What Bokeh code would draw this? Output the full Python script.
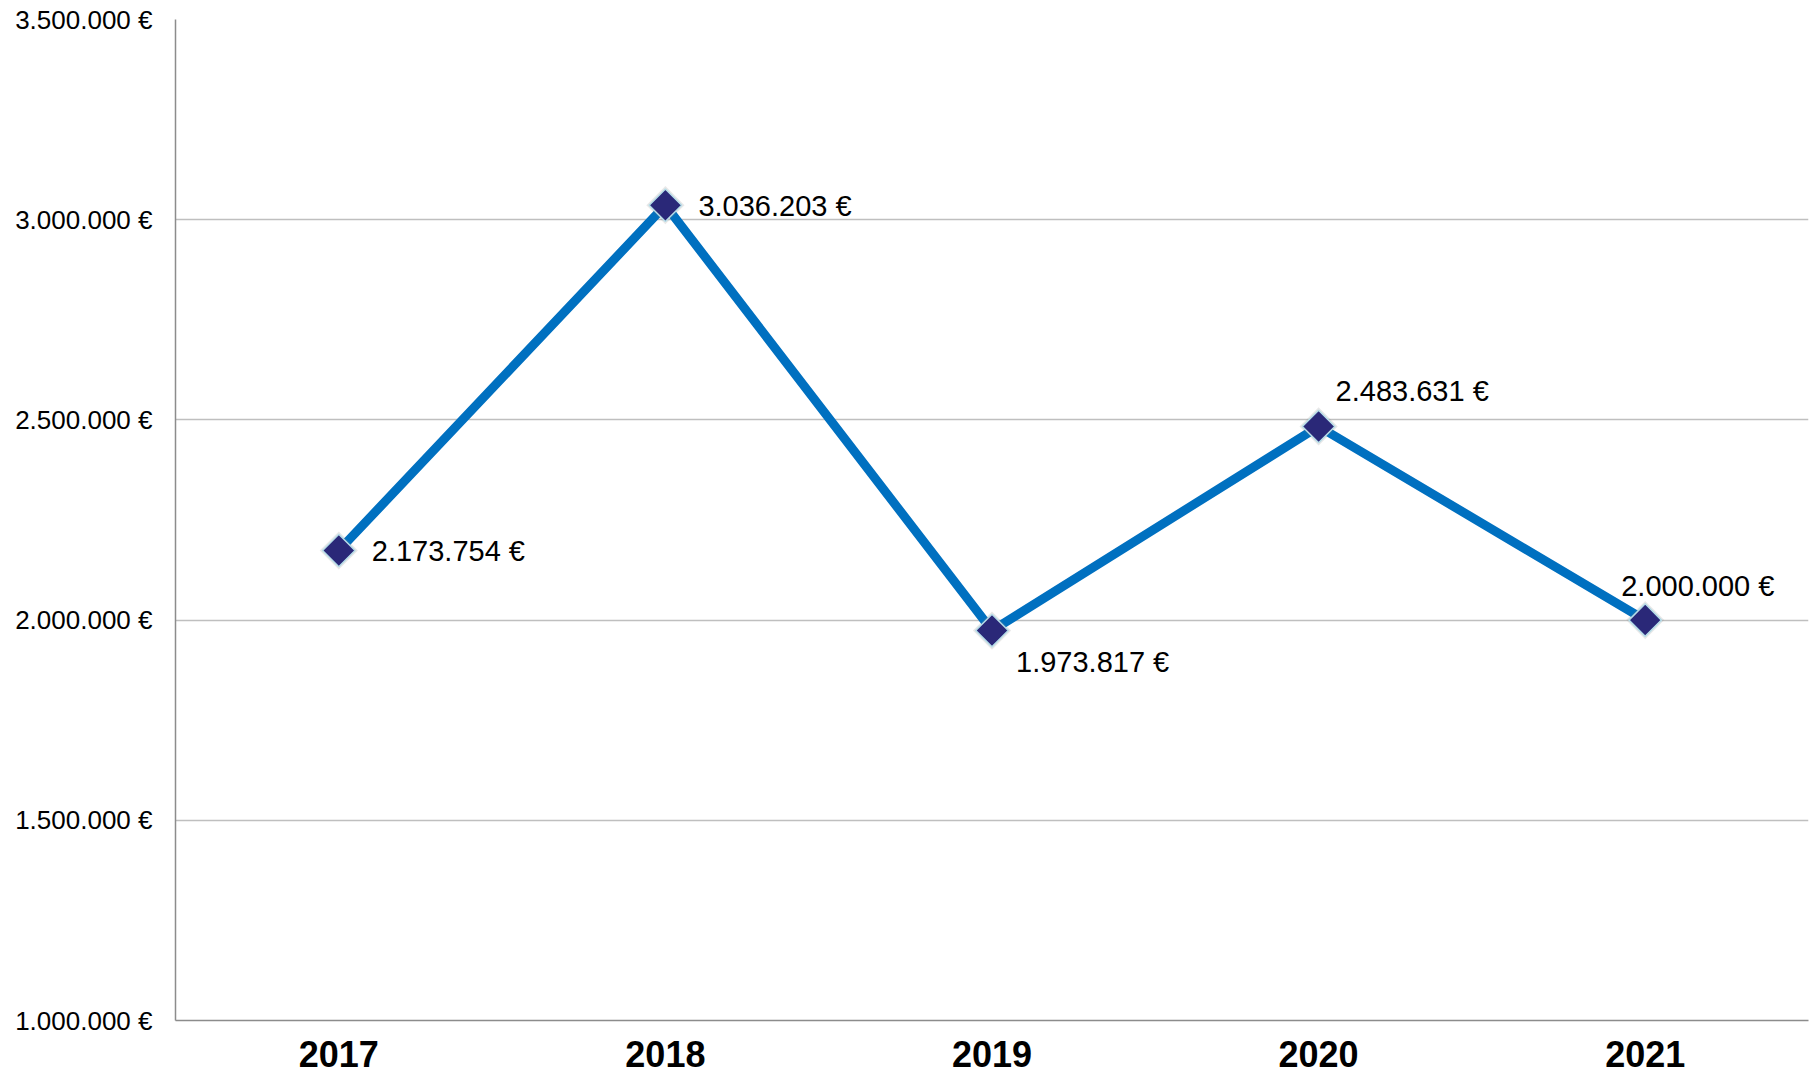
import math
from bokeh.plotting import figure
from bokeh.models import ColumnDataSource, Range1d, FixedTicker, CustomJSTickFormatter
from bokeh.core.properties import value
from bokeh.embed import file_html
from bokeh.resources import INLINE

years = ["2017", "2018", "2019", "2020", "2021"]
amounts = [2173754, 3036203, 1973817, 2483631, 2000000]
label_texts = ["2.173.754 €", "3.036.203 €", "1.973.817 €", "2.483.631 €", "2.000.000 €"]
y_ticks = [1000000, 1500000, 2000000, 2500000, 3000000, 3500000]

# label placement (screen px) relative to each point
label_dx = [33, 33, 24, 17, -24]
label_dy = [0, 1, 31, -35, -34]

src = ColumnDataSource(dict(x=years, y=amounts, t=label_texts, dx=label_dx, dy=label_dy))

p = figure(x_range=years, y_range=Range1d(1000000, 3500000),
           width=1812, height=1083, output_backend="svg", toolbar_location=None,
           min_border_left=175, min_border_right=4, min_border_top=19, min_border_bottom=63)
p.outline_line_color = None
p.background_fill_color = "white"

p.xgrid.grid_line_color = None
p.ygrid.grid_line_color = "#BFBFBF"
p.ygrid.grid_line_width = 1.5

p.yaxis.ticker = FixedTicker(ticks=y_ticks)
p.yaxis.formatter = CustomJSTickFormatter(code="""
return Math.round(tick).toString().replace(/\\B(?=(\\d{3})+(?!\\d))/g, '.') + ' €';
""")
p.yaxis.major_label_text_font = "Liberation Sans"
p.yaxis.major_label_text_font_size = "26px"
p.yaxis.major_label_text_color = "black"
p.yaxis.major_tick_out = 0
p.yaxis.major_tick_in = 0
p.yaxis.minor_tick_out = 0
p.yaxis.minor_tick_in = 0
p.yaxis.major_label_standoff = 23
p.yaxis.axis_line_color = "#8C8C8C"
p.yaxis.axis_line_width = 1.5

p.xaxis.major_label_text_font = "Liberation Sans"
p.xaxis.major_label_text_font_size = "36px"
p.xaxis.major_label_text_font_style = "bold"
p.xaxis.major_label_text_color = "black"
p.xaxis.major_tick_out = 0
p.xaxis.major_tick_in = 0
p.xaxis.major_label_standoff = 20
p.xaxis.axis_line_color = "#8C8C8C"
p.xaxis.axis_line_width = 1.5

p.line("x", "y", source=src, line_color="#0070C0", line_width=9, line_join="miter")

# soft shadow under markers
p.scatter("x", "y", source=src, marker="square", size=27, angle=math.pi / 4,
          fill_color="#7F7F7F", fill_alpha=0.18, line_color=None)
p.scatter("x", "y", source=src, marker="square", size=23, angle=math.pi / 4,
          fill_color="#2A2878", line_color="#B7DDE8", line_width=1.5)

p.text("x", "y", text="t", source=src, x_offset="dx", y_offset="dy",
       text_font=value("Liberation Sans"), text_font_size="29px",
       text_align="left", text_baseline="middle", text_color="black")

open("out.html", "w").write(file_html(p, INLINE))
